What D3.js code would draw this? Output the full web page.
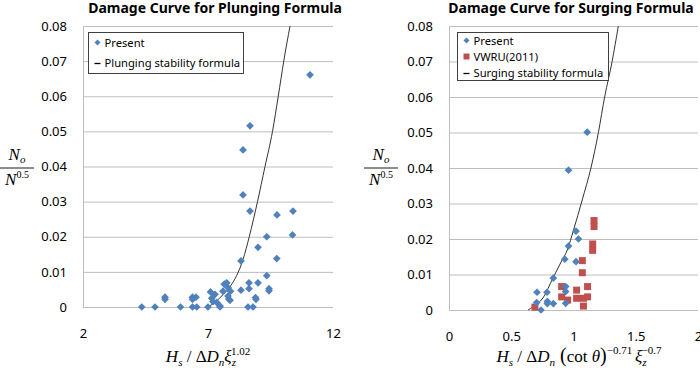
<!DOCTYPE html>
<html>
<head>
<meta charset="utf-8">
<script src="https://cdn.jsdelivr.net/npm/d3@7"></script>
<style>
  body { margin: 0; background: #fff; }
  svg { display: block; }
  .tick text { font-family: "Noto Sans", "Open Sans", sans-serif; font-size: 13px; fill: #000; }
  .math { font-family: "Liberation Serif", "DejaVu Serif", serif; font-style: italic; fill: #000; }
</style>
</head>
<body>
<svg id="chart" width="700" height="376"></svg>
<script>
// ---- plunging chart data ----
const plungeX = [4.35, 4.88, 5.28, 5.28, 5.9, 6.38, 6.52, 6.38, 6.38, 6.55, 7.0, 7.1, 7.15, 7.2, 7.35, 7.28,
  7.48, 7.48, 7.6, 7.65, 7.75, 7.8, 7.8, 7.88, 7.9, 7.83,
  8.32, 8.32, 8.4, 8.4, 8.68, 8.68, 8.64, 8.64, 8.6, 8.8, 8.9, 8.92, 9.0, 9.0,
  9.35, 9.35, 9.44, 9.44, 9.75, 9.76, 10.38, 10.4, 11.08];
const plungeY = [0, 0, 0.0028, 0.0022, 0, 0.0028, 0.0028, 0.0022, 0, 0, 0, 0.0043, 0.0025, 0.0015, 0.0013, 0.0036,
  0.0003, 0, 0.0045, 0.0065, 0.0069, 0.0055, 0.0031, 0.0019, 0.0045, 0.0023,
  0.0131, 0.0048, 0.0447, 0.0319, 0.0516, 0.0273, 0.0069, 0.0052, 0, 0, 0.0027, 0.0022, 0.017, 0.0069,
  0.02, 0.0089, 0.0052, 0.0046, 0.0138, 0.0262, 0.0205, 0.0273, 0.0661];
const plungeCurveX = [7.0, 7.3, 7.6, 7.9, 8.15, 8.4, 8.65, 8.98, 9.28, 9.58, 9.81, 10.03, 10.28];
const plungeCurveY = [0, 0.0015, 0.0035, 0.006, 0.009, 0.0135, 0.02, 0.03, 0.04, 0.05, 0.06, 0.07, 0.08];

// ---- surging chart data ----
const surgeX = [1.11, 0.96, 1.02, 1.04, 0.96, 0.93, 1.02, 0.838, 0.707, 0.787, 0.704, 0.79, 0.79, 0.838,
  0.937, 0.937, 0.937, 0.739];
const surgeY = [0.0501, 0.0394, 0.0222, 0.020, 0.018, 0.0143, 0.0136, 0.009, 0.005, 0.005, 0.0021, 0.0024, 0.0018, 0.0018,
  0.0066, 0.0052, 0.0019, 0];
const vwruX = [1.165, 1.165, 1.154, 1.154, 1.071, 1.071, 0.905, 0.905, 0.953, 1.025, 1.025, 1.08, 1.08, 1.113, 1.113, 0.69];
const vwruY = [0.0252, 0.0235, 0.0186, 0.0168, 0.0139, 0.0105, 0.0066, 0.0037, 0.0028, 0.0056, 0.0033, 0.0033, 0.0011, 0.0066, 0.0037, 0.0008];
const surgeCurveX = [0.635, 0.675, 0.755, 0.835, 0.9, 0.95, 1.0, 1.07, 1.14, 1.2, 1.25, 1.31, 1.36];
const surgeCurveY = [0, 0.0009, 0.0034, 0.009, 0.0135, 0.0169, 0.0225, 0.031, 0.04, 0.05, 0.06, 0.07, 0.08];

const yTicks = [0, 0.01, 0.02, 0.03, 0.04, 0.05, 0.06, 0.07, 0.08];
const plungeXTicks = [2, 7, 12];
const surgeXTicks = [0, 0.5, 1, 1.5, 2];

const blue = '#4F81BD';
const red = '#C0504D';
const gridColor = '#BEBEBE';

const svg = d3.select('#chart');

// square diamond, like Excel's marker
const diamond = {
    draw(ctx, size) {
        const r = Math.sqrt(size / 2);
        ctx.moveTo(0, -r); ctx.lineTo(r, 0); ctx.lineTo(0, r); ctx.lineTo(-r, 0); ctx.closePath();
    }
};

function panel(opt) {
    const x = d3.scaleLinear().domain(opt.xDomain).range([opt.left, opt.right]);
    const y = d3.scaleLinear().domain([0, 0.08]).range([opt.bottom, opt.top]);
    const g = svg.append('g');

    // horizontal gridlines
    g.append('g')
        .attr('transform', `translate(${opt.left},0)`)
        .call(d3.axisLeft(y).tickValues(yTicks).tickSize(-(opt.right - opt.left)).tickPadding(16)
            .tickFormat(d => d === 0 ? '0' : d3.format('.2f')(d)))
        .call(g => g.select('.domain').attr('stroke', gridColor))
        .call(g => g.selectAll('.tick line').attr('stroke', gridColor));

    // x tick labels
    g.append('g')
        .attr('transform', `translate(0,${opt.bottom})`)
        .call(d3.axisBottom(x).tickValues(opt.xTicks).tickSize(0).tickPadding(22).tickFormat(d => String(d)))
        .call(g => g.select('.domain').remove());

    // curve
    const line = d3.line()
        .curve(d3.curveMonotoneX)
        .x((d, i) => x(opt.curveX[i]))
        .y(d => y(d));
    g.append('path')
        .datum(opt.curveY)
        .attr('fill', 'none')
        .attr('stroke', '#333')
        .attr('stroke-width', 1)
        .attr('d', line);

    // extra series (squares)
    if (opt.sqX) {
        g.append('g').selectAll('path')
            .data(opt.sqY)
            .join('path')
                .attr('transform', (d, i) => `translate(${x(opt.sqX[i])},${y(d)})`)
                .attr('d', d3.symbol(d3.symbolSquare, 49))
                .attr('fill', red);
    }

    // present data (diamonds)
    g.append('g').selectAll('path')
        .data(opt.ptY)
        .join('path')
            .attr('transform', (d, i) => `translate(${x(opt.ptX[i])},${y(d)})`)
            .attr('d', d3.symbol(diamond, 30))
            .attr('fill', blue);

    // title
    svg.append('text')
        .attr('x', opt.titleX).attr('y', 13)
        .attr('text-anchor', 'middle')
        .style('font-family', '"Noto Sans", sans-serif')
        .style('font-weight', 'bold')
        .style('font-size', '14px')
        .text(opt.title);

    // legend
    const lg = svg.append('g').attr('transform', `translate(${opt.legend[0]},${opt.legend[1]})`);
    lg.append('rect')
        .attr('width', opt.legend[2]).attr('height', opt.legend[3])
        .attr('fill', '#fff').attr('stroke', '#404040');
    opt.legendItems.forEach((it, i) => {
        const yy = opt.legendStart + i * opt.legendStep;
        if (it.type === 'diamond') {
            lg.append('path').attr('transform', `translate(9,${yy})`)
                .attr('d', d3.symbol(diamond, 18)).attr('fill', blue);
        } else if (it.type === 'square') {
            lg.append('path').attr('transform', `translate(9,${yy})`)
                .attr('d', d3.symbol(d3.symbolSquare, 36)).attr('fill', red);
        } else {
            lg.append('line').attr('x1', 6).attr('x2', 12).attr('y1', yy + 1).attr('y2', yy + 1)
                .attr('stroke', '#000').attr('stroke-width', 1.3);
        }
        lg.append('text')
            .attr('x', 16).attr('y', yy + 4)
            .style('font-family', '"Noto Sans", sans-serif')
            .style('font-size', '11.2px')
            .text(it.label);
    });

    // y label fraction
    const fx = opt.fracX;
    const num = svg.append('text').attr('class', 'math').attr('x', fx).attr('y', 160)
        .attr('text-anchor', 'middle').style('font-size', '17px');
    num.append('tspan').text('N');
    num.append('tspan').attr('dy', 3).style('font-size', '11px').text('o');
    svg.append('line').attr('x1', fx - 17).attr('x2', fx + 17).attr('y1', 168).attr('y2', 168)
        .attr('stroke', '#000').attr('stroke-width', 0.9);
    const den = svg.append('text').attr('class', 'math').attr('x', fx).attr('y', 185)
        .attr('text-anchor', 'middle').style('font-size', '17px');
    den.append('tspan').text('N');
    den.append('tspan').attr('dy', -7).style('font-size', '10px').style('font-style', 'normal').text('0.5');

    // x label
    opt.xLabel(svg.append('text').attr('class', 'math')
        .attr('x', opt.xLabelX).attr('y', 362).attr('text-anchor', 'middle').style('font-size', '17px'));
}

panel({
    xDomain: [2, 12], left: 83, right: 333, top: 26, bottom: 307,
    xTicks: plungeXTicks, curveX: plungeCurveX, curveY: plungeCurveY,
    ptX: plungeX, ptY: plungeY,
    title: 'Damage Curve for Plunging Formula', titleX: 215,
    legend: [88.5, 32.5, 155, 41], legendStart: 10, legendStep: 20,
    legendItems: [{type: 'diamond', label: 'Present'}, {type: 'line', label: 'Plunging stability formula'}],
    fracX: 17,
    xLabelX: 208,
    xLabel: t => {
        t.append('tspan').text('H');
        t.append('tspan').attr('dy', 4).style('font-size', '11px').text('s');
        t.append('tspan').attr('dy', -4).style('font-style', 'normal').text(' / \u0394');
        t.append('tspan').text('D');
        t.append('tspan').attr('dy', 4).style('font-size', '11px').text('n');
        t.append('tspan').attr('dy', -4).text('\u03BE');
        t.append('tspan').attr('dy', 4).style('font-size', '11px').text('z');
        t.append('tspan').attr('dy', -11).attr('dx', -5).style('font-size', '11px').style('font-style', 'normal').text('1.02');
    }
});

panel({
    xDomain: [0, 2], left: 449, right: 698, top: 26, bottom: 310,
    xTicks: surgeXTicks, curveX: surgeCurveX, curveY: surgeCurveY,
    ptX: surgeX, ptY: surgeY, sqX: vwruX, sqY: vwruY,
    title: 'Damage Curve for Surging Formula', titleX: 571,
    legend: [457.5, 32.5, 151, 48], legendStart: 8, legendStep: 16,
    legendItems: [{type: 'diamond', label: 'Present'}, {type: 'square', label: 'VWRU(2011)'}, {type: 'line', label: 'Surging stability formula'}],
    fracX: 381,
    xLabelX: 579,
    xLabel: t => {
        t.append('tspan').text('H');
        t.append('tspan').attr('dy', 4).style('font-size', '11px').text('s');
        t.append('tspan').attr('dy', -4).style('font-style', 'normal').text(' / \u0394');
        t.append('tspan').text('D');
        t.append('tspan').attr('dy', 4).style('font-size', '11px').text('n');
        t.append('tspan').attr('dy', -4).style('font-style', 'normal').style('font-size', '20px').text(' (');
        t.append('tspan').style('font-style', 'normal').text('cot ');
        t.append('tspan').text('\u03B8');
        t.append('tspan').style('font-style', 'normal').style('font-size', '20px').text(')');
        t.append('tspan').attr('dy', -8).style('font-size', '11px').style('font-style', 'normal').text('\u22120.71 ');
        t.append('tspan').attr('dy', 8).text('\u03BE');
        t.append('tspan').attr('dy', 4).style('font-size', '11px').text('z');
        t.append('tspan').attr('dy', -12).attr('dx', -5).style('font-size', '11px').style('font-style', 'normal').text('\u22120.7');
    }
});
</script>
</body>
</html>
